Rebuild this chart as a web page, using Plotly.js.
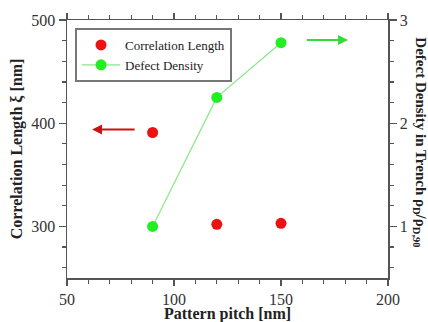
<!DOCTYPE html>
<html>
<head>
<meta charset="utf-8">
<script src="https://cdn.plot.ly/plotly-3.0.1.min.js"></script>
<style>html,body{margin:0;padding:0;background:#fff;}#chart{width:428px;height:322px;}</style>
</head>
<body>
<div id="chart"></div>
<script>
const pitch = [90, 120, 150];
const correlationLength = [391, 302, 303];
const defectDensity = [1.0, 2.25, 2.78];
const seriesNames = ["Correlation Length", "Defect Density"];
const xTicks = [50, 100, 150, 200];
const yTicks = [300, 400, 500];
const y2Ticks = [1, 2, 3];

const FONT = "Liberation Serif, Times New Roman, serif";
const AX = "#555";

const traces = [
  {x: pitch, y: correlationLength, name: seriesNames[0], type: "scatter", mode: "markers",
   marker: {color: "#ee1111", size: 11}, yaxis: "y"},
  {x: pitch, y: defectDensity, name: seriesNames[1], type: "scatter", mode: "lines+markers",
   line: {color: "#88e888", width: 1.2}, marker: {color: "#22ee22", size: 11}, yaxis: "y2"}
];

const common = {
  showgrid: false, zeroline: false, showline: true, linecolor: AX, linewidth: 1.5,
  ticks: "outside", ticklen: 7, tickwidth: 1.2, tickcolor: AX,
  tickfont: {family: FONT, size: 16, color: "#333"}
};

const layout = {
  width: 428, height: 322,
  margin: {l: 67, r: 40, t: 20, b: 44},
  paper_bgcolor: "#fff", plot_bgcolor: "#fff",
  showlegend: true,
  legend: {x: 0.025, y: 0.969, xanchor: "left", yanchor: "top", itemwidth: 38,
           bgcolor: "#fff", bordercolor: "#777", borderwidth: 2,
           font: {family: FONT, size: 13, color: "#222"}, tracegroupgap: 0},
  xaxis: Object.assign({}, common, {
    range: [50, 200], tickvals: xTicks, mirror: "ticks", ticklen: 6,
    minor: {dtick: 10, ticks: "outside", ticklen: 4, tickcolor: AX, tickwidth: 1.2}
  }),
  yaxis: Object.assign({}, common, {
    range: [250, 500], tickvals: yTicks,
    minor: {dtick: 20, ticks: "outside", ticklen: 4, tickcolor: AX, tickwidth: 1.2},
    title: {text: "<b>Correlation Length ξ [nm]</b>", font: {family: FONT, size: 16, color: "#222"}, standoff: 4}
  }),
  yaxis2: Object.assign({}, common, {
    range: [0.5, 3], tickvals: y2Ticks, overlaying: "y", side: "right",
    minor: {dtick: 0.2, ticks: "outside", ticklen: 4, tickcolor: AX, tickwidth: 1.2}
  }),
  annotations: [
    {xref: "paper", yref: "paper", x: 0.5, y: -0.14, yanchor: "middle", showarrow: false,
     text: "<b>Pattern pitch [nm]</b>", font: {family: FONT, size: 16, color: "#222"}},
    {xref: "paper", yref: "paper", x: 1.133, y: 0.527, textangle: 90, showarrow: false,
     text: "<b>Defect Density in Trench ρ<sub>D</sub>/ρ<sub>D,90</sub></b>",
     font: {family: FONT, size: 15, color: "#222"}},
    {xref: "x", yref: "y", axref: "x", ayref: "y", x: 61.7, y: 393.8, ax: 82.3, ay: 393.8,
     text: "", showarrow: true, arrowhead: 2, arrowsize: 1, arrowwidth: 2, arrowcolor: "#cc1111"},
    {xref: "x", yref: "y", axref: "x", ayref: "y", x: 181.3, y: 480.6, ax: 161.4, ay: 480.6,
     text: "", showarrow: true, arrowhead: 2, arrowsize: 1, arrowwidth: 2, arrowcolor: "#33dd33"}
  ]
};

Plotly.newPlot("chart", traces, layout, {staticPlot: true});
</script>
</body>
</html>
